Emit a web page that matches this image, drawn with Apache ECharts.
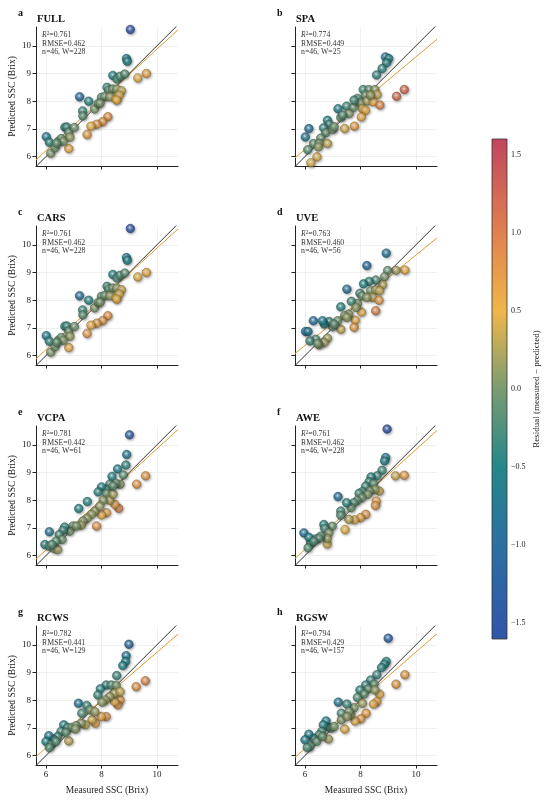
<!DOCTYPE html>
<html>
<head>
<meta charset="utf-8">
<script src="https://cdn.jsdelivr.net/npm/echarts@6.0.0/dist/echarts.min.js"></script>
<style>
  html, body { margin: 0; padding: 0; background: #fff; }
  #chart { width: 550px; height: 802px; }
</style>
</head>
<body>
<div id="chart"></div>
<script>
// panel labels and stats
var panelNames = ['FULL', 'SPA', 'CARS', 'UVE', 'VCPA', 'AWE', 'RCWS', 'RGSW'];
var panelLetters = ['a', 'b', 'c', 'd', 'e', 'f', 'g', 'h'];
var r2Values = [0.761, 0.774, 0.761, 0.763, 0.781, 0.761, 0.782, 0.794];
var rmseValues = [0.462, 0.449, 0.462, 0.460, 0.442, 0.462, 0.441, 0.429];
var nValues = [46, 46, 46, 46, 46, 46, 46, 46];
var wValues = [228, 25, 228, 56, 61, 228, 129, 157];
// fitted line (predicted = slope * measured + intercept)
var fitSlope = [0.917, 0.836, 0.917, 0.816, 0.914, 0.903, 0.864, 0.872];
var fitIntercept = [0.71, 1.24, 0.71, 1.47, 0.716, 0.80, 1.09, 1.02];

var xTicks = [6, 8, 10];
var yTicks = [6, 7, 8, 9, 10];
var residualTicks = [-1.5, -1.0, -0.5, 0.0, 0.5, 1.0, 1.5];
var xRange = [5.64, 10.76];
var yRange = [5.66, 10.68];
var residualRange = [-1.6, 1.6];

var measuredFULL = [9.04,8.90,8.93,9.62,9.31,8.41,8.56,8.67,8.84,8.20,8.26,8.40,8.55,8.72,8.00,8.12,8.30,8.52,8.64,8.55,7.21,7.54,7.32,7.33,7.75,7.88,7.95,8.23,8.04,7.83,7.62,7.48,6.82,6.01,6.12,6.17,6.33,6.45,6.55,6.68,6.75,6.82,6.86,7.02,6.62,6.38];
var predictedFULL = [10.59,9.54,9.44,9.00,8.84,8.93,8.80,8.90,8.98,8.50,8.40,8.44,8.44,8.38,8.14,8.17,8.16,8.08,8.22,8.04,8.16,8.00,7.65,7.47,7.72,7.92,7.93,7.44,7.26,7.17,7.10,6.80,6.29,6.72,6.52,6.12,6.32,6.56,6.65,7.06,7.07,6.88,6.70,7.05,6.55,6.48];

var measuredSPA = [8.90,9.02,8.94,8.78,8.58,9.58,9.30,8.10,8.30,8.52,8.18,8.60,7.89,8.00,8.24,8.46,8.70,8.07,8.18,8.03,7.50,7.74,7.59,7.19,7.29,6.81,6.87,6.67,6.75,7.00,6.57,6.31,6.51,6.10,6.81,6.14,6.01,7.43,7.78,6.43,6.21,8.36,7.77,7.35,7.05,6.48];
var predictedSPA = [9.60,9.54,9.39,9.18,8.95,8.42,8.18,8.42,8.42,8.42,8.22,8.24,8.10,7.94,8.01,7.98,7.86,7.73,7.67,7.43,7.82,7.77,7.55,7.73,7.41,7.31,7.17,7.04,6.86,6.98,6.67,6.47,6.47,6.25,6.47,7.01,6.71,7.01,7.10,5.99,5.78,8.22,8.04,7.50,7.08,6.35];

var measuredCARS = measuredFULL.slice();
var predictedCARS = predictedFULL.slice();

var measuredUVE = [8.93,8.23,7.51,7.29,6.30,6.02,6.11,9.60,9.28,8.55,8.04,7.81,7.77,7.29,8.98,8.87,8.80,8.55,8.31,8.11,8.37,8.55,8.69,8.43,8.67,7.98,8.06,8.23,7.89,7.67,7.58,7.43,7.18,6.99,6.87,6.69,6.81,6.69,6.51,6.39,6.18,7.84,7.51,6.45,6.63,7.05];
var predictedUVE = [9.70,9.25,8.40,7.76,7.26,6.87,6.87,9.09,9.08,7.62,7.57,7.28,7.02,6.95,9.07,8.85,8.56,8.73,8.68,8.59,8.34,8.37,8.34,8.10,8.00,8.25,8.16,8.10,7.88,7.96,7.50,7.44,7.26,7.04,7.23,7.14,6.63,6.47,6.39,6.59,6.53,7.74,7.38,6.44,7.26,7.14];

var measuredVCPA = [9.01,8.91,8.88,8.58,8.79,8.38,9.59,9.27,8.62,8.48,8.18,8.00,7.82,8.67,8.52,8.30,8.18,8.00,7.88,8.18,8.30,8.06,7.18,7.49,7.76,7.64,7.48,7.33,7.27,6.97,6.85,6.67,6.61,6.48,6.58,6.12,5.96,6.12,6.30,6.42,8.42,7.94,7.09,6.36,6.21,8.42];
var predictedVCPA = [10.36,9.65,9.27,9.13,8.91,8.86,8.88,8.58,7.71,7.85,7.55,7.47,7.07,8.58,8.61,8.58,8.40,8.48,8.30,8.24,8.00,8.00,7.70,7.95,7.61,7.49,7.35,7.25,7.10,7.07,6.88,7.03,6.91,6.76,6.58,6.86,6.40,6.34,6.25,6.22,8.22,7.79,7.07,6.52,6.40,8.52];

var measuredAWE = [8.96,8.91,8.87,8.78,9.26,9.58,8.68,8.57,8.54,8.19,8.00,7.78,7.58,7.44,6.80,8.60,8.38,8.31,8.19,8.47,8.52,8.33,8.07,7.95,8.26,8.05,7.88,7.76,7.66,7.50,7.19,7.29,7.29,6.98,6.68,6.71,6.86,6.80,6.56,6.38,6.20,6.11,5.96,6.14,6.50,6.32];
var predictedAWE = [10.57,9.54,9.42,9.08,8.88,8.90,8.33,7.97,7.81,7.49,7.37,7.29,7.31,6.94,6.42,8.88,8.84,8.67,8.51,8.60,8.39,8.33,8.31,8.25,8.21,8.09,7.99,7.91,7.73,7.91,8.13,7.61,7.46,7.06,7.12,6.98,6.82,6.62,6.70,6.60,6.46,6.28,6.82,6.66,6.62,6.52];

var measuredRCWS = [8.99,8.89,8.87,8.77,8.55,9.58,9.25,8.67,8.59,8.47,8.17,7.99,7.78,7.66,7.42,7.27,6.82,8.17,8.35,8.53,7.96,7.87,8.47,8.67,8.29,8.14,8.02,7.17,7.47,7.29,7.59,7.76,6.64,6.78,6.94,6.54,6.42,6.27,6.10,6.00,6.18,6.12,6.36,6.72,7.08,7.06];
var predictedRCWS = [10.02,9.61,9.40,9.25,8.89,8.70,8.49,8.01,7.83,7.95,7.41,7.41,7.17,7.29,7.11,7.17,6.53,8.55,8.55,8.53,8.41,8.19,8.25,8.31,8.13,8.01,7.93,7.89,7.81,7.53,7.65,7.59,7.11,7.01,7.02,6.87,6.69,6.60,6.72,6.51,6.39,6.29,6.51,6.84,7.08,6.96];

var measuredRGSW = [9.00,8.93,8.86,8.76,8.59,9.60,9.28,8.69,8.59,8.47,8.20,8.01,7.80,7.43,6.84,8.37,8.19,8.49,7.98,8.28,8.52,8.13,7.89,8.07,7.77,7.65,7.20,7.51,7.31,7.31,6.93,6.81,6.76,6.66,6.60,6.51,6.30,6.14,6.00,6.42,6.18,6.08,7.05,7.59,7.51,6.63];
var predictedRGSW = [10.24,9.40,9.30,9.18,8.92,8.92,8.58,8.22,7.95,7.86,7.53,7.33,7.25,6.96,6.60,8.73,8.55,8.58,8.37,8.41,8.37,8.22,8.10,7.89,7.73,7.47,7.93,7.86,7.53,7.29,6.99,7.05,7.25,7.11,6.87,6.75,6.63,6.77,6.57,6.51,6.33,6.29,7.05,7.59,7.41,6.69];

var measuredAll = [measuredFULL, measuredSPA, measuredCARS, measuredUVE, measuredVCPA, measuredAWE, measuredRCWS, measuredRGSW];
var predictedAll = [predictedFULL, predictedSPA, predictedCARS, predictedUVE, predictedVCPA, predictedAWE, predictedRCWS, predictedRGSW];

// colormap for residuals
var cmap = [
  [-1.6, '#3155a8'], [-1.0, '#2b6fa2'], [-0.5, '#24878a'], [0.0, '#7a9c72'],
  [0.5, '#f0b649'], [1.0, '#e0814f'], [1.6, '#c1455f']
];

function hexToRgb(h) {
  return [parseInt(h.substr(1, 2), 16), parseInt(h.substr(3, 2), 16), parseInt(h.substr(5, 2), 16)];
}
function rgbStr(c, k) {
  // k > 0 lightens towards white, k < 0 darkens
  var r = c.map(function (v) {
    return Math.round(k >= 0 ? v + (255 - v) * k : v * (1 + k));
  });
  return 'rgb(' + r[0] + ',' + r[1] + ',' + r[2] + ')';
}
function residualColor(v) {
  if (v <= cmap[0][0]) return hexToRgb(cmap[0][1]);
  for (var i = 1; i < cmap.length; i++) {
    if (v <= cmap[i][0]) {
      var t = (v - cmap[i - 1][0]) / (cmap[i][0] - cmap[i - 1][0]);
      var a = hexToRgb(cmap[i - 1][1]), b = hexToRgb(cmap[i][1]);
      return [0, 1, 2].map(function (j) { return a[j] + (b[j] - a[j]) * t; });
    }
  }
  return hexToRgb(cmap[cmap.length - 1][1]);
}

var FONT = '"Liberation Serif", "Times New Roman", serif';
var gridLefts = [36, 295];
var gridTops = [27, 226, 426, 626];
var gridW = 142, gridH = 139;

var grids = [], xAxes = [], yAxes = [], series = [], graphics = [];

for (var i = 0; i < 8; i++) {
  var col = i % 2, row = Math.floor(i / 2);
  var gLeft = gridLefts[col], gTop = gridTops[row];
  grids.push({ left: gLeft, top: gTop, width: gridW, height: gridH });

  xAxes.push({
    gridIndex: i, type: 'value', min: xRange[0], max: xRange[1],
    name: row === 3 ? 'Measured SSC (Brix)' : '',
    nameLocation: 'middle', nameGap: 20,
    nameTextStyle: { fontFamily: FONT, fontSize: 9.5, color: '#222' },
    axisLine: { show: true, onZero: false, lineStyle: { color: '#222', width: 1 } },
    axisTick: { show: true, length: 3.5, customValues: xTicks, lineStyle: { color: '#222' } },
    axisLabel: { show: row === 3, customValues: xTicks, margin: 5, fontFamily: FONT, fontSize: 9, color: '#222' },
    splitLine: { show: true, lineStyle: { color: '#ececec', width: 0.8 } }
  });
  yAxes.push({
    gridIndex: i, type: 'value', min: yRange[0], max: yRange[1],
    name: col === 0 ? 'Predicted SSC (Brix)' : '',
    nameLocation: 'middle', nameGap: 19, nameRotate: 90,
    nameTextStyle: { fontFamily: FONT, fontSize: 9.5, color: '#222' },
    axisLine: { show: true, onZero: false, lineStyle: { color: '#222', width: 1 } },
    axisTick: { show: true, length: 3.5, customValues: yTicks, lineStyle: { color: '#222' } },
    axisLabel: { show: col === 0, customValues: yTicks, margin: 5, fontFamily: FONT, fontSize: 9, color: '#222' },
    splitLine: { show: true, lineStyle: { color: '#ececec', width: 0.8 } }
  });

  // 1:1 line
  series.push({
    type: 'line', xAxisIndex: i, yAxisIndex: i, silent: true, showSymbol: false, z: 2,
    data: [[xRange[0], xRange[0]], [xRange[1], xRange[1]]],
    lineStyle: { color: '#333', width: 1 }, clip: true
  });
  // fitted line
  series.push({
    type: 'line', xAxisIndex: i, yAxisIndex: i, silent: true, showSymbol: false, z: 3,
    data: xRange.map(function (x) { return [x, fitSlope[i] * x + fitIntercept[i]]; }),
    lineStyle: { color: '#dc9c3c', width: 1 }, clip: true
  });

  var pts = measuredAll[i].map(function (m, k) {
    var p = predictedAll[i][k];
    var c = residualColor(m - p);
    return {
      value: [m, p],
      itemStyle: {
        color: {
          type: 'radial', x: 0.45, y: 0.4, r: 0.6,
          colorStops: [
            { offset: 0, color: 'rgba(255,255,255,0.9)' },
            { offset: 0.2, color: rgbStr(c, 0.4) },
            { offset: 0.5, color: rgbStr(c, 0) },
            { offset: 1, color: rgbStr(c, -0.25) }
          ]
        },
        borderColor: rgbStr(c, -0.4), borderWidth: 0.7,
        shadowBlur: 2.5, shadowOffsetX: 1, shadowOffsetY: 1.2, shadowColor: 'rgba(0,0,0,0.4)'
      }
    };
  });
  series.push({
    type: 'scatter', xAxisIndex: i, yAxisIndex: i, z: 5, symbolSize: 8.5,
    data: pts
  });

  graphics.push({
    type: 'text', x: gLeft - 18, y: gTop - 14,
    style: { text: panelLetters[i], font: 'bold 10px ' + FONT, fill: '#111', verticalAlign: 'middle' }
  });
  graphics.push({
    type: 'text', x: gLeft + 1, y: gTop - 8,
    style: { text: panelNames[i], font: 'bold 10.5px ' + FONT, fill: '#111', verticalAlign: 'middle' }
  });
  graphics.push({
    type: 'text', x: gLeft + 6, y: gTop + 4,
    style: {
      text: '{i|R}{s|2}{t|=' + r2Values[i].toFixed(3) + '}\n{t|RMSE=' + rmseValues[i].toFixed(3) + '}\n{t|n=' + nValues[i] + ', W=' + wValues[i] + '}',
      fill: '#333',
      rich: {
        i: { fontFamily: FONT, fontSize: 7.8, fontStyle: 'italic', lineHeight: 8.3 },
        s: { fontFamily: FONT, fontSize: 5.2, lineHeight: 8.3, verticalAlign: 'top' },
        t: { fontFamily: FONT, fontSize: 7.8, lineHeight: 8.3 }
      }
    }
  });
}

// colorbar
grids.push({ left: 492, top: 139, width: 15, height: 500 });
xAxes.push({ gridIndex: 8, type: 'value', min: 0, max: 1, show: false });
yAxes.push({
  gridIndex: 8, type: 'value', min: residualRange[0], max: residualRange[1], position: 'right',
  name: 'Residual (measured \u2212 predicted)', nameLocation: 'middle', nameGap: 25, nameRotate: 90,
  nameTextStyle: { fontFamily: FONT, fontSize: 9, color: '#222' },
  axisLine: { show: false },
  axisTick: { show: true, length: 3, customValues: residualTicks, lineStyle: { color: '#222' } },
  axisLabel: {
    show: true, customValues: residualTicks, margin: 4, fontFamily: FONT, fontSize: 8, color: '#222',
    formatter: function (v) { return (v < 0 ? '\u2212' : '') + Math.abs(v).toFixed(1); }
  },
  splitLine: { show: false }
});
var barStops = cmap.slice().reverse().map(function (s) {
  return { offset: (residualRange[1] - s[0]) / (residualRange[1] - residualRange[0]), color: s[1] };
});
series.push({
  type: 'custom', xAxisIndex: 8, yAxisIndex: 8, silent: true,
  data: [[0, residualRange[0], residualRange[1]]],
  renderItem: function (params, api) {
    var p0 = api.coord([0, api.value(2)]);
    var p1 = api.coord([1, api.value(1)]);
    return {
      type: 'rect',
      shape: { x: p0[0], y: p0[1], width: p1[0] - p0[0], height: p1[1] - p0[1] },
      style: { fill: { type: 'linear', x: 0, y: 0, x2: 0, y2: 1, colorStops: barStops }, stroke: '#333', lineWidth: 0.8 }
    };
  }
});

var chart = echarts.init(document.getElementById('chart'), null, { renderer: 'canvas' });
chart.setOption({
  animation: false,
  backgroundColor: '#fff',
  grid: grids,
  xAxis: xAxes,
  yAxis: yAxes,
  series: series,
  graphic: graphics
});
</script>
</body>
</html>
